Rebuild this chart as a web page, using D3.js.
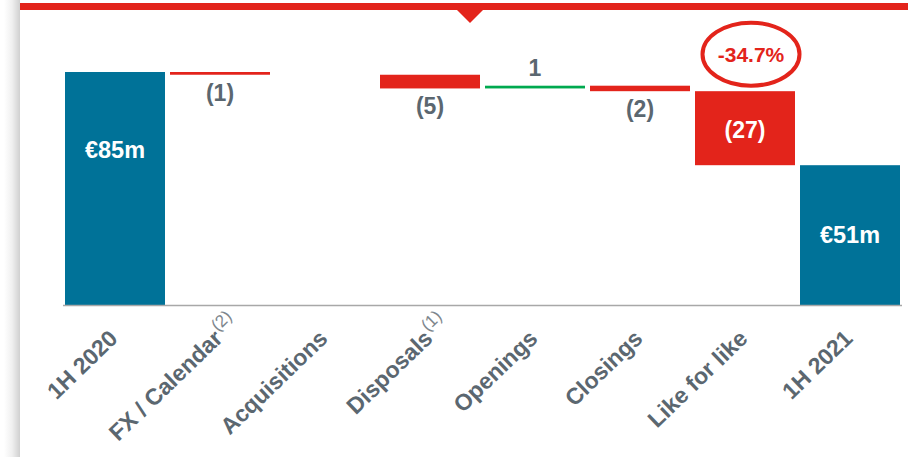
<!DOCTYPE html>
<html>
<head>
<meta charset="utf-8">
<script src="https://cdn.jsdelivr.net/npm/d3@7"></script>
<style>
  html, body { margin: 0; padding: 0; background: #fff; }
  svg { display: block; font-family: "Liberation Sans", Arial, sans-serif; }
</style>
</head>
<body>
<div id="chart"></div>
<script>
// data
var categories = ["1H 2020", "FX / Calendar", "Acquisitions", "Disposals", "Openings", "Closings", "Like for like", "1H 2021"];
var notes = ["", "(2)", "", "(1)", "", "", "", ""];
var kinds = ["total", "delta", "delta", "delta", "delta", "delta", "delta", "total"];
var values = [85, -1, 0, -5, 1, -2, -27, 51];
var valueLabels = ["€85m", "(1)", "", "(5)", "1", "(2)", "(27)", "€51m"];
var changeLabel = "-34.7%";
var changeCategory = "Like for like";

var W = 908, H = 457;
var blue = "#007298", red = "#e3241b", green = "#00a94f", grey = "#5b6770";

var svg = d3.select("#chart").append("svg")
  .attr("width", W).attr("height", H);

// card shadow on the left
var defs = svg.append("defs");
var grad = defs.append("linearGradient").attr("id", "shadow")
  .attr("x1", "0").attr("x2", "1").attr("y1", "0").attr("y2", "0");
grad.append("stop").attr("offset", "0").attr("stop-color", "#ffffff");
grad.append("stop").attr("offset", "0.5").attr("stop-color", "#f0f0f0");
grad.append("stop").attr("offset", "1").attr("stop-color", "#d0d0d0");
svg.append("rect").attr("x", 4).attr("y", 0).attr("width", 16).attr("height", H)
  .attr("fill", "url(#shadow)");

// top red band with notch
svg.append("rect").attr("x", 20).attr("y", 3).attr("width", W - 20).attr("height", 7)
  .attr("fill", red);
svg.append("path").attr("d", "M457,10 L483,10 L470,23 Z").attr("fill", red);

// scales
var x = d3.scaleBand()
  .domain(categories)
  .range([62.5, 902.5])
  .paddingInner(0.0476)
  .paddingOuter(0.0238);

var y = d3.scaleLinear().domain([0, 85]).range([305, 72]);

// build waterfall steps
var run = 0;
var steps = categories.map(function (c, i) {
  var s, e;
  if (kinds[i] === "total") { s = 0; e = values[i]; run = values[i]; }
  else { s = run; e = run + values[i]; run = e; }
  return { cat: c, kind: kinds[i], v: values[i], start: s, end: e, label: valueLabels[i], note: notes[i] };
});

var g = svg.append("g");

g.selectAll(".bar")
  .data(steps.filter(function (d) { return d.v !== 0; }))
  .enter().append("rect")
  .attr("class", "bar")
  .attr("x", function (d) { return x(d.cat); })
  .attr("width", x.bandwidth())
  .attr("y", function (d) { return y(Math.max(d.start, d.end)); })
  .attr("height", function (d) { return Math.abs(y(d.start) - y(d.end)); })
  .attr("fill", function (d) {
    if (d.kind === "total") return blue;
    return d.v < 0 ? red : green;
  });

// axis line
g.append("line")
  .attr("x1", 63).attr("x2", 902)
  .attr("y1", y(0) + 0.5).attr("y2", y(0) + 0.5)
  .attr("stroke", "#a8a8a8").attr("stroke-width", 1.5);

// value labels
g.selectAll(".val")
  .data(steps.filter(function (d) { return d.label; }))
  .enter().append("text")
  .attr("class", "val")
  .attr("text-anchor", "middle")
  .attr("font-weight", "bold")
  .attr("font-size", function (d) { return d.kind === "total" ? 23.5 : 23; })
  .attr("x", function (d) { return x(d.cat) + x.bandwidth() / 2; })
  .attr("y", function (d) {
    var top = y(Math.max(d.start, d.end)), bot = y(Math.min(d.start, d.end));
    var mid = (top + bot) / 2;
    if (d.kind === "total") return Math.min(mid, top + 78) + 7.5;
    if (bot - top > 40) return mid + 10;
    if (d.v > 0) return top - 10;
    return bot + 26;
  })
  .attr("fill", function (d) {
    var top = y(Math.max(d.start, d.end)), bot = y(Math.min(d.start, d.end));
    return (d.kind === "total" || bot - top > 40) ? "#ffffff" : grey;
  })
  .text(function (d) { return d.label; });

// change bubble
var cd = steps[categories.indexOf(changeCategory)];
var cx = x(cd.cat) + x.bandwidth() / 2 + 6;
var cy = y(cd.start) - 37;
g.append("ellipse")
  .attr("cx", cx).attr("cy", cy).attr("rx", 48.5).attr("ry", 31.5)
  .attr("fill", "none").attr("stroke", red).attr("stroke-width", 4);
g.append("text")
  .attr("x", cx).attr("y", cy + 7.5)
  .attr("text-anchor", "middle").attr("font-weight", "bold").attr("font-size", 21)
  .attr("fill", red)
  .text(changeLabel);

// category labels, rotated
var ticks = g.selectAll(".tick")
  .data(steps)
  .enter().append("g")
  .attr("class", "tick")
  .attr("transform", function (d) {
    return "translate(" + (x(d.cat) + x.bandwidth() / 2 + 4) + ",340) rotate(-44)";
  });

ticks.append("text")
  .attr("text-anchor", "end")
  .attr("font-weight", "bold")
  .attr("font-size", 23)
  .attr("fill", grey)
  .text(function (d) { return d.cat; });

ticks.filter(function (d) { return d.note; })
  .append("text")
  .attr("x", 1).attr("y", -10)
  .attr("font-size", 17)
  .attr("fill", "#7d868d")
  .text(function (d) { return d.note; });
</script>
</body>
</html>
